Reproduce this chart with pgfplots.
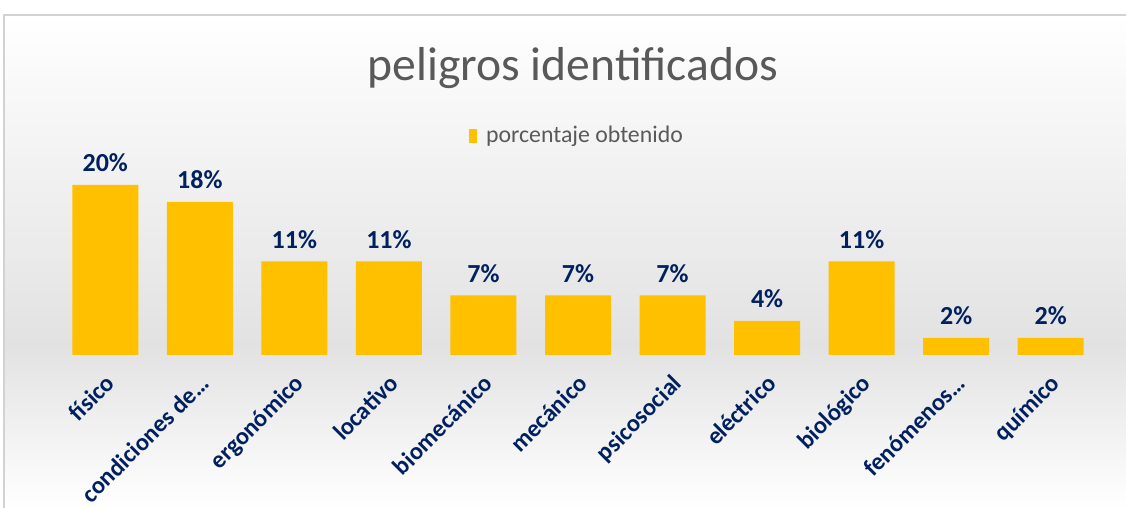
\documentclass[border=0pt]{standalone}
\usepackage{pgfplots}
\pgfplotsset{compat=1.18}
\usepackage{fontspec}
\setmainfont{Carlito}
\definecolor{barc}{HTML}{FFC000}
\definecolor{navy}{HTML}{002060}
\definecolor{titc}{HTML}{595959}
\definecolor{gr}{HTML}{E2E2E2}
\begin{document}
\begin{tikzpicture}
\useasboundingbox (0,0) rectangle (563pt,254pt);
\fill[white] (0,0) rectangle (563pt,254pt);
\shade[top color=white, bottom color=gr] (2pt,81.5pt) rectangle (563pt,246.5pt);
\shade[top color=gr, bottom color=white] (2pt,0pt) rectangle (563pt,81.5pt);
\draw[color=gray!35, line width=0.8pt] (2pt,0pt) -- (2pt,246.5pt) -- (563pt,246.5pt);
\node[font=\fontsize{23.8}{28}\selectfont, text=titc] at (286.5pt,220pt) {peligros identificados};
\begin{axis}[
  at={(29pt,76.5pt)}, anchor=south west,
  scale only axis, width=520pt, height=93.5pt,
  ybar, bar width=33pt,
  ymin=0, ymax=22, xmin=-0.5, xmax=10.5,
  axis line style={draw=none}, ytick=\empty, major tick length=0pt,
  xtick=data,
  /pgf/number format/assume math mode=true,
  xticklabels={físico,condiciones de…,ergonómico,locativo,biomecánico,mecánico,psicosocial,eléctrico,biológico,fenómenos…,químico},
  xticklabel style={xshift=-0.8pt, yshift=-8.8pt, rotate=45, anchor=north east, inner sep=0pt, font=\fontsize{12.2}{14}\selectfont\bfseries, text=navy},
  nodes near coords={\pgfmathprintnumber{\pgfplotspointmeta}\%},
  every node near coord/.append style={font=\fontsize{13}{15}\selectfont\bfseries, text=navy, yshift=3pt},
  legend style={at={(0.5,1.171)}, anchor=center, draw=none, fill=none, font=\fontsize{11.9}{14}\selectfont, text=titc},
  legend image code/.code={\fill[barc] (0pt,-3.5pt) rectangle (4pt,3.5pt);},
  legend cell align=left,
  clip=false,
]
\addplot[fill=barc, draw=none] coordinates {(0,20) (1,18) (2,11) (3,11) (4,7) (5,7) (6,7) (7,4) (8,11) (9,2) (10,2)};
\addlegendentry{\hspace{2.5pt}porcentaje obtenido}
\end{axis}
\end{tikzpicture}
\end{document}
